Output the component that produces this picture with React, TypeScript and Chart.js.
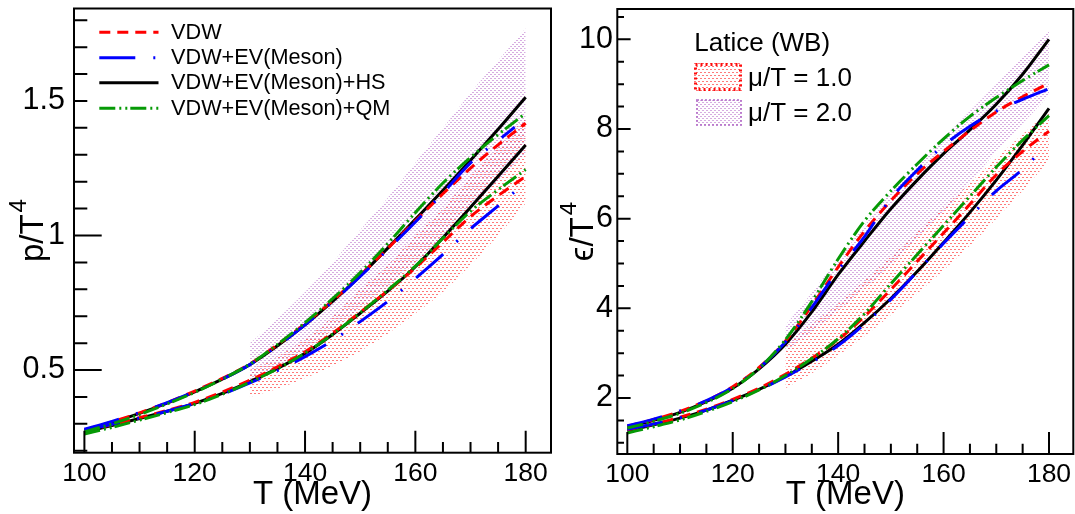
import { useEffect, useRef } from "react";
import { Chart, registerables } from "chart.js";

Chart.register(...registerables);

const FONT = '"Liberation Sans", Arial, Helvetica, sans-serif';

// ---------------- data ----------------
const T = [100, 105, 110, 115, 120, 125, 130, 135, 140, 145, 150, 155, 160, 165, 170, 175, 180];
const T_EV_P2 = [100, 105, 110, 115, 120, 125, 130, 135, 140, 145, 150, 155, 160, 165, 170, 175, 178];
const T_EV_P1 = [100, 105, 110, 115, 120, 125, 130, 135, 140, 145, 150, 155, 160, 165, 170, 175, 179];
const T_EV_E1 = [100, 105, 110, 115, 120, 125, 130, 135, 140, 145, 150, 155, 160, 165, 170, 175, 178];
const T_LAT = [130, 135, 140, 145, 150, 155, 160, 165, 170, 175, 180];

// p/T^4, mu/T = 2
const pVdw2 = [0.277, 0.307, 0.341, 0.379, 0.422, 0.469, 0.523, 0.594, 0.672, 0.758, 0.852, 0.952, 1.055, 1.155, 1.25, 1.337, 1.417];
const pEv2 = [0.28, 0.309, 0.342, 0.379, 0.42, 0.466, 0.52, 0.59, 0.668, 0.754, 0.848, 0.948, 1.05, 1.158, 1.27, 1.353, 1.403];
const pHs2 = [0.275, 0.305, 0.339, 0.377, 0.419, 0.466, 0.52, 0.59, 0.668, 0.755, 0.85, 0.953, 1.06, 1.168, 1.28, 1.395, 1.514];
const pQm2 = [0.27, 0.3, 0.335, 0.374, 0.417, 0.466, 0.522, 0.595, 0.676, 0.765, 0.862, 0.97, 1.085, 1.195, 1.29, 1.375, 1.454];
// p/T^4, mu/T = 1
const pVdw1 = [0.273, 0.297, 0.323, 0.35, 0.38, 0.418, 0.462, 0.512, 0.568, 0.637, 0.715, 0.795, 0.88, 0.975, 1.07, 1.148, 1.22];
const pEv1 = [0.276, 0.298, 0.322, 0.347, 0.376, 0.41, 0.452, 0.498, 0.55, 0.61, 0.68, 0.755, 0.84, 0.93, 1.025, 1.11, 1.18];
const pHs1 = [0.27, 0.294, 0.32, 0.347, 0.376, 0.413, 0.457, 0.506, 0.562, 0.632, 0.711, 0.793, 0.884, 0.992, 1.105, 1.22, 1.336];
const pQm1 = [0.262, 0.287, 0.314, 0.342, 0.372, 0.41, 0.455, 0.505, 0.563, 0.633, 0.713, 0.797, 0.886, 0.99, 1.09, 1.17, 1.245];
// lattice bands p/T^4
const pLat2Hi = [0.6, 0.69, 0.79, 0.9, 1.02, 1.14, 1.27, 1.4, 1.53, 1.65, 1.77];
const pLat2Lo = [0.46, 0.515, 0.575, 0.65, 0.73, 0.81, 0.9, 0.995, 1.1, 1.2, 1.3];
const pLat1Hi = [0.5, 0.55, 0.615, 0.7, 0.8, 0.89, 1.0, 1.1, 1.22, 1.33, 1.44];
const pLat1Lo = [0.4, 0.43, 0.47, 0.515, 0.57, 0.635, 0.71, 0.79, 0.89, 1.0, 1.12];

// e/T^4, mu/T = 2
const eVdw2 = [1.37, 1.52, 1.7, 1.94, 2.25, 2.68, 3.27, 4.06, 4.92, 5.72, 6.4, 7.0, 7.5, 7.96, 8.38, 8.72, 9.02];
const eEv2 = [1.38, 1.53, 1.71, 1.94, 2.24, 2.67, 3.25, 4.02, 4.85, 5.6, 6.45, 7.08, 7.63, 8.06, 8.4, 8.66, 8.9];
const eHs2 = [1.35, 1.5, 1.68, 1.92, 2.22, 2.65, 3.2, 3.92, 4.75, 5.5, 6.22, 6.86, 7.45, 7.98, 8.55, 9.22, 10.0];
const eQm2 = [1.33, 1.48, 1.66, 1.9, 2.21, 2.66, 3.3, 4.15, 5.1, 5.95, 6.62, 7.22, 7.78, 8.28, 8.7, 9.08, 9.43];
// e/T^4, mu/T = 1
const eVdw1 = [1.29, 1.42, 1.57, 1.75, 1.97, 2.22, 2.53, 2.89, 3.3, 3.82, 4.42, 5.05, 5.68, 6.32, 6.98, 7.5, 7.95];
const eEv1 = [1.3, 1.42, 1.56, 1.73, 1.94, 2.18, 2.47, 2.8, 3.17, 3.65, 4.2, 4.82, 5.45, 6.05, 6.62, 7.1, 7.45];
const eHs1 = [1.27, 1.4, 1.55, 1.73, 1.95, 2.19, 2.48, 2.82, 3.2, 3.68, 4.22, 4.82, 5.47, 6.14, 6.86, 7.64, 8.46];
const eQm1 = [1.22, 1.36, 1.51, 1.7, 1.92, 2.18, 2.5, 2.88, 3.32, 3.88, 4.55, 5.2, 5.85, 6.5, 7.15, 7.75, 8.3];
// lattice bands e/T^4
const eLat2Hi = [3.62, 4.35, 5.1, 5.85, 6.6, 7.2, 7.8, 8.4, 9.0, 9.6, 10.2];
const eLat2Lo = [3.05, 3.48, 3.95, 4.45, 4.95, 5.55, 6.15, 6.8, 7.5, 8.12, 8.75];
const eLat1Hi = [3.2, 3.65, 4.1, 4.62, 5.15, 5.7, 6.25, 6.8, 7.35, 7.88, 8.4];
const eLat1Lo = [2.22, 2.55, 2.95, 3.38, 3.85, 4.33, 4.85, 5.4, 6.0, 6.62, 7.3];

// ticks
const X_MAJOR = [100, 120, 140, 160, 180];
const X_MINOR = [100, 105, 110, 115, 120, 125, 130, 135, 140, 145, 150, 155, 160, 165, 170, 175, 180];
const P_MAJOR = [0.5, 1, 1.5];
const P_MINOR = [0.2, 0.3, 0.4, 0.5, 0.6, 0.7, 0.8, 0.9, 1.0, 1.1, 1.2, 1.3, 1.4, 1.5, 1.6, 1.7, 1.8];
const E_MAJOR = [2, 4, 6, 8, 10];
const E_MINOR = [1, 1.5, 2, 2.5, 3, 3.5, 4, 4.5, 5, 5.5, 6, 6.5, 7, 7.5, 8, 8.5, 9, 9.5, 10, 10.5];

const MODEL_LABELS = ["VDW", "VDW+EV(Meson)", "VDW+EV(Meson)+HS", "VDW+EV(Meson)+QM"];
const LAT_LABELS = ["Latice (WB)", "\u03bc/T = 1.0", "\u03bc/T = 2.0"];

// styles
const RED = "#ff0000";
const BLUE = "#0000ff";
const BLACK = "#000000";
const GREEN = "#069a06";
const DASH_VDW = [11, 7];
const DASH_EV = [36, 18, 2, 18];
const DASH_QM = [16, 4, 2, 4, 2, 3];

const pts = (xs: number[], ys: number[]) => xs.map((x, i) => ({ x, y: ys[i] }));

function lineDs(xs: number[], ys: number[], color: string, dash: number[], order: number) {
  return {
    data: pts(xs, ys),
    borderColor: color,
    borderWidth: 3,
    borderDash: dash,
    borderCapStyle: "butt",
    pointRadius: 0,
    fill: false,
    cubicInterpolationMode: "monotone",
    order,
  };
}

function bandDs(xs: number[], hi: number[], lo: number[], pattern: any) {
  return [
    {
      data: pts(xs, hi),
      borderColor: "rgba(0,0,0,0)",
      borderWidth: 1,
      pointRadius: 0,
      fill: "+1",
      backgroundColor: pattern,
      cubicInterpolationMode: "monotone",
      order: 100,
    },
    {
      data: pts(xs, lo),
      borderColor: "rgba(0,0,0,0)",
      borderWidth: 1,
      pointRadius: 0,
      fill: false,
      cubicInterpolationMode: "monotone",
      order: 100,
    },
  ];
}

function makePattern(ctx: CanvasRenderingContext2D, w: number, h: number, rects: number[][], color: string) {
  const c = document.createElement("canvas");
  c.width = w;
  c.height = h;
  const g = c.getContext("2d")!;
  g.fillStyle = color;
  rects.forEach(([x, y, rw, rh]) => g.fillRect(x, y, rw, rh));
  return ctx.createPattern(c, "repeat")!;
}

function redPattern(ctx: CanvasRenderingContext2D) {
  return makePattern(ctx, 4, 6, [[0, 0, 2, 1], [2, 3, 2, 1]], "rgba(255,40,40,0.62)");
}
function purplePattern(ctx: CanvasRenderingContext2D) {
  return makePattern(ctx, 4, 4, [[0, 0, 2, 1], [2, 2, 2, 1]], "rgba(175,90,195,0.5)");
}

type PanelCfg = {
  kind: "p" | "e";
  width: number;
  left: number;
  xMin: number;
  xMax: number;
  yMin: number;
  yMax: number;
  yMajor: number[];
  yMinor: number[];
  yMajLen: number;
  yMinLen: number;
  xMajLen: number;
  xMinLen: number;
  yAxisW: number;
  xAxisH: number;
  padTop: number;
  padRight: number;
  yLabelPad: number;
  titleMain: string;
  titleBaseX: number;
};

const LEFT_CFG: PanelCfg = {
  kind: "p",
  width: 560,
  left: 0,
  xMin: 98.115,
  xMax: 184.59,
  yMin: 0.1928,
  yMax: 1.8436,
  yMajor: P_MAJOR,
  yMinor: P_MINOR,
  yMajLen: 27.7,
  yMinLen: 13.3,
  xMajLen: 22,
  xMinLen: 10.7,
  yAxisW: 74,
  xAxisH: 61.3,
  padTop: 8.5,
  padRight: 9,
  yLabelPad: 9,
  titleMain: "p/T",
  titleBaseX: 42.7,
};

const RIGHT_CFG: PanelCfg = {
  kind: "e",
  width: 515,
  left: 560,
  xMin: 98.1,
  xMax: 184.61,
  yMin: 0.751,
  yMax: 10.676,
  yMajor: E_MAJOR,
  yMinor: E_MINOR,
  yMajLen: 13.3,
  yMinLen: 6.7,
  xMajLen: 22,
  xMinLen: 10.3,
  yAxisW: 57.3,
  xAxisH: 60,
  padTop: 9,
  padRight: 1.7,
  yLabelPad: 4.3,
  titleMain: "\u03f5/T",
  titleBaseX: 33.3,
};

function buildDatasets(cfg: PanelCfg, ctx: CanvasRenderingContext2D) {
  const rp = redPattern(ctx);
  const pp = purplePattern(ctx);
  if (cfg.kind === "p") {
    return [
      ...bandDs(T_LAT, pLat2Hi, pLat2Lo, pp),
      ...bandDs(T_LAT, pLat1Hi, pLat1Lo, rp),
      lineDs(T, pHs2, BLACK, [], 4),
      lineDs(T, pHs1, BLACK, [], 4),
      lineDs(T, pVdw2, RED, DASH_VDW, 3),
      lineDs(T, pVdw1, RED, DASH_VDW, 3),
      lineDs(T_EV_P2, pEv2, BLUE, DASH_EV, 2),
      lineDs(T_EV_P1, pEv1, BLUE, DASH_EV, 2),
      lineDs(T, pQm2, GREEN, DASH_QM, 1),
      lineDs(T, pQm1, GREEN, DASH_QM, 1),
    ];
  }
  return [
    ...bandDs(T_LAT, eLat2Hi, eLat2Lo, pp),
    ...bandDs(T_LAT, eLat1Hi, eLat1Lo, rp),
    lineDs(T, eHs2, BLACK, [], 4),
    lineDs(T, eHs1, BLACK, [], 4),
    lineDs(T, eVdw2, RED, DASH_VDW, 3),
    lineDs(T, eVdw1, RED, DASH_VDW, 3),
    lineDs(T, eEv2, BLUE, DASH_EV, 2),
    lineDs(T_EV_E1, eEv1, BLUE, DASH_EV, 2),
    lineDs(T, eQm2, GREEN, DASH_QM, 1),
    lineDs(T, eQm1, GREEN, DASH_QM, 1),
  ];
}

function decorPlugin(cfg: PanelCfg) {
  return {
    id: "decor" + cfg.kind,
    afterDraw(chart: any) {
      const { ctx, chartArea: a, scales } = chart;
      const xs = scales.x;
      const ys = scales.y;
      ctx.save();

      // legend background (ROOT white legend fill)
      if (cfg.kind === "p") {
        ctx.fillStyle = "#fff";
        ctx.fillRect(87.5, 12, 300, 108);
      }

      ctx.strokeStyle = "#000";
      ctx.lineWidth = 2;
      ctx.setLineDash([]);
      ctx.beginPath();
      X_MINOR.forEach((v) => {
        const px = xs.getPixelForValue(v);
        ctx.moveTo(px, a.bottom);
        ctx.lineTo(px, a.bottom - cfg.xMinLen);
      });
      X_MAJOR.forEach((v) => {
        const px = xs.getPixelForValue(v);
        ctx.moveTo(px, a.bottom);
        ctx.lineTo(px, a.bottom - cfg.xMajLen);
      });
      cfg.yMinor.forEach((v) => {
        const py = ys.getPixelForValue(v);
        ctx.moveTo(a.left, py);
        ctx.lineTo(a.left + cfg.yMinLen, py);
      });
      cfg.yMajor.forEach((v) => {
        const py = ys.getPixelForValue(v);
        const len = cfg.kind === "p" && v === 1.5 ? cfg.yMinLen : cfg.yMajLen;
        ctx.moveTo(a.left, py);
        ctx.lineTo(a.left + len, py);
      });
      ctx.stroke();
      ctx.strokeRect(a.left, a.top, a.right - a.left, a.bottom - a.top);

      // y title with superscript
      const cy = (a.top + a.bottom) / 2;
      ctx.fillStyle = "#000";
      ctx.translate(cfg.titleBaseX, cy);
      ctx.rotate(-Math.PI / 2);
      ctx.font = `33px ${FONT}`;
      const w1 = ctx.measureText(cfg.titleMain).width;
      ctx.font = `24px ${FONT}`;
      const w2 = ctx.measureText("4").width;
      const start = -(w1 + w2 + 2) / 2;
      ctx.font = `33px ${FONT}`;
      ctx.textBaseline = "alphabetic";
      ctx.textAlign = "left";
      ctx.fillText(cfg.titleMain, start, 0);
      ctx.font = `24px ${FONT}`;
      ctx.fillText("4", start + w1 + 2, -17);
      ctx.restore();

      // legends
      ctx.save();
      ctx.textBaseline = "alphabetic";
      ctx.textAlign = "left";
      ctx.fillStyle = "#000";
      if (cfg.kind === "p") {
        const rows = [
          { c: RED, d: DASH_VDW, y: 32.3 },
          { c: BLUE, d: DASH_EV, y: 57.7 },
          { c: BLACK, d: [], y: 82.7 },
          { c: GREEN, d: DASH_QM, y: 108.3 },
        ];
        rows.forEach((r, i) => {
          ctx.strokeStyle = r.c;
          ctx.lineWidth = 3;
          ctx.lineCap = "butt";
          ctx.setLineDash(r.d);
          ctx.beginPath();
          ctx.moveTo(99.3, r.y);
          ctx.lineTo(158.5, r.y);
          ctx.stroke();
          ctx.setLineDash([]);
          ctx.fillStyle = "#000";
          ctx.font = `21.7px ${FONT}`;
          ctx.fillText(MODEL_LABELS[i], 171, r.y + 6.5);
        });
      } else {
        ctx.font = `26px ${FONT}`;
        ctx.fillText(LAT_LABELS[0], 134.3, 50.5);
        // red box
        ctx.fillStyle = redPattern(ctx);
        ctx.fillRect(134, 63, 48, 28);
        ctx.strokeStyle = "rgba(255,0,0,0.95)";
        ctx.lineWidth = 3;
        ctx.setLineDash([2, 3]);
        ctx.strokeRect(135.5, 64.5, 45, 25);
        // purple box
        ctx.fillStyle = purplePattern(ctx);
        ctx.fillRect(136, 99, 46, 27);
        ctx.strokeStyle = "rgba(180,110,200,0.8)";
        ctx.lineWidth = 2;
        ctx.setLineDash([2, 2]);
        ctx.strokeRect(137, 100, 44, 25);
        ctx.setLineDash([]);
        ctx.fillStyle = "#000";
        ctx.font = `26px ${FONT}`;
        ctx.fillText(LAT_LABELS[1], 188, 86);
        ctx.fillText(LAT_LABELS[2], 188, 120.5);
      }
      ctx.restore();
    },
  };
}

function zeroPad(s: any) {
  s.paddingTop = 0;
  s.paddingBottom = 0;
  s.paddingLeft = 0;
  s.paddingRight = 0;
}

function buildConfig(cfg: PanelCfg, ctx: CanvasRenderingContext2D): any {
  return {
    type: "line",
    data: { datasets: buildDatasets(cfg, ctx) },
    options: {
      animation: false,
      responsive: false,
      devicePixelRatio: 1,
      events: [],
      layout: { padding: { left: 0, right: cfg.padRight, top: cfg.padTop, bottom: 0 } },
      plugins: {
        legend: { display: false },
        tooltip: { enabled: false },
        title: { display: false },
      },
      scales: {
        x: {
          type: "linear",
          min: cfg.xMin,
          max: cfg.xMax,
          grid: { display: false, drawTicks: false },
          border: { display: false },
          afterBuildTicks: (s: any) => {
            s.ticks = X_MAJOR.map((v) => ({ value: v }));
          },
          afterFit: (s: any) => {
            s.height = cfg.xAxisH;
            zeroPad(s);
          },
          ticks: {
            color: "#000",
            font: { family: FONT, size: 26.5 },
            padding: 5,
            maxRotation: 0,
            autoSkip: false,
            callback: (v: any) => String(v),
          },
          title: {
            display: true,
            text: "T (MeV)",
            color: "#000",
            font: { family: FONT, size: 33, lineHeight: 1.2 },
            padding: { top: 0, bottom: -1 },
          },
        },
        y: {
          type: "linear",
          min: cfg.yMin,
          max: cfg.yMax,
          grid: { display: false, drawTicks: false },
          border: { display: false },
          afterBuildTicks: (s: any) => {
            s.ticks = cfg.yMajor.map((v) => ({ value: v }));
          },
          afterFit: (s: any) => {
            s.width = cfg.yAxisW;
            zeroPad(s);
          },
          ticks: {
            color: "#000",
            font: { family: FONT, size: 30.5 },
            padding: cfg.yLabelPad,
            autoSkip: false,
            callback: (v: any) => String(v),
          },
        },
      },
    },
    plugins: [decorPlugin(cfg)],
  };
}

function Panel({ cfg }: { cfg: PanelCfg }) {
  const ref = useRef<HTMLCanvasElement>(null);
  useEffect(() => {
    const canvas = ref.current!;
    const ctx = canvas.getContext("2d")!;
    const chart = new Chart(canvas, buildConfig(cfg, ctx));
    return () => chart.destroy();
  }, []);
  return (
    <canvas
      ref={ref}
      width={cfg.width}
      height={514}
      style={{ position: "absolute", left: cfg.left, top: 0, width: cfg.width, height: 514 }}
    />
  );
}

export default function App() {
  return (
    <div style={{ position: "fixed", left: 0, top: 0, width: 1075, height: 514, background: "#fff", overflow: "hidden" }}>
      <Panel cfg={LEFT_CFG} />
      <Panel cfg={RIGHT_CFG} />
    </div>
  );
}
